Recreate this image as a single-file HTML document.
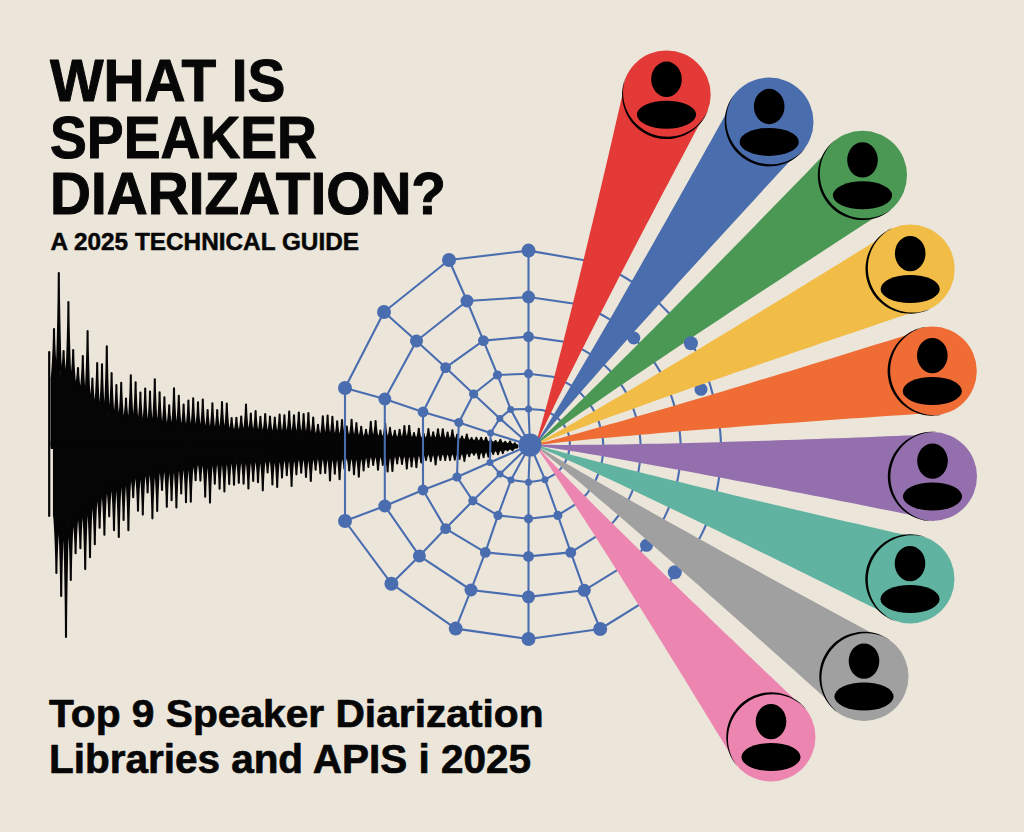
<!DOCTYPE html>
<html><head><meta charset="utf-8"><style>
html,body{margin:0;padding:0;background:#ebe5da;}
body{width:1024px;height:832px;overflow:hidden;}
svg{display:block;}
text{font-family:"Liberation Sans",sans-serif;font-weight:bold;fill:#070707;stroke:#070707;stroke-linejoin:round;}
.t1{stroke-width:1px;} .t2{stroke-width:0.5px;} .t3{stroke-width:0.7px;}
</style></head><body>
<svg width="1024" height="832" viewBox="0 0 1024 832">
<rect width="1024" height="832" fill="#ebe5da"/>
<text class="t1" x="50" y="101" font-size="60" textLength="235.5" lengthAdjust="spacingAndGlyphs">WHAT IS</text>
<text class="t1" x="50" y="157.5" font-size="60" textLength="267" lengthAdjust="spacingAndGlyphs">SPEAKER</text>
<text class="t1" x="50" y="214" font-size="60" textLength="396" lengthAdjust="spacingAndGlyphs">DIARIZATION?</text>
<text class="t2" x="50.5" y="249.5" font-size="24.4" textLength="308.5" lengthAdjust="spacingAndGlyphs">A 2025 TECHNICAL GUIDE</text>
<text class="t3" x="49" y="727" font-size="39.5" textLength="494.5" lengthAdjust="spacingAndGlyphs">Top 9 Speaker Diarization</text>
<text class="t3" x="49" y="773" font-size="41" textLength="482" lengthAdjust="spacingAndGlyphs">Libraries and APIS i 2025</text>
<g fill="#050505" stroke="#050505" stroke-width="2.1" stroke-linejoin="round"><path d="M51.60,445.01 L51.60,377.61 C52.32,377.61 54.00,346.03 54.00,329.02 C54.00,344.80 55.68,374.09 56.40,374.09 C57.12,374.09 58.80,308.41 58.80,273.03 C58.80,308.78 60.48,375.18 61.20,375.18 C61.92,375.18 63.60,359.49 63.60,351.05 C63.60,360.62 65.28,378.39 66.00,378.39 C66.72,378.39 68.40,328.78 68.40,302.07 C68.40,330.02 70.08,381.93 70.80,381.93 C71.52,381.93 73.20,361.23 73.20,350.08 C73.20,363.02 74.88,387.06 75.60,387.06 C76.32,387.06 78.00,374.73 78.00,368.10 C78.00,376.53 79.68,392.20 80.40,392.20 C81.12,392.20 82.80,368.74 82.80,356.11 C82.80,370.54 84.48,397.33 85.20,397.33 C85.92,397.33 87.60,354.30 87.60,331.13 C87.60,356.10 89.28,402.47 90.00,402.47 C90.72,402.47 92.40,386.91 92.40,378.53 C92.40,388.71 94.08,407.60 94.80,407.60 C95.52,407.60 97.20,378.71 97.20,363.16 C97.20,380.51 98.88,412.74 99.60,412.74 C100.32,412.74 102.00,381.20 102.00,364.22 C102.00,381.97 103.68,414.94 104.40,414.94 C105.12,414.94 106.80,370.25 106.80,346.19 C106.80,370.93 108.48,416.88 109.20,416.88 C109.92,416.88 111.60,388.36 111.60,373.00 C111.60,389.04 113.28,418.81 114.00,418.81 C114.72,418.81 116.40,396.94 116.40,385.16 C116.40,397.62 118.08,420.75 118.80,420.75 C119.52,420.75 121.20,396.05 121.20,382.75 C121.20,396.47 122.88,421.96 123.60,421.96 C124.32,421.96 126.00,406.70 126.00,398.48 C126.00,407.04 127.68,422.94 128.40,422.94 C129.12,422.94 130.80,391.95 130.80,375.26 C130.80,392.29 132.48,423.91 133.20,423.91 C133.92,423.91 135.60,396.88 135.60,382.32 C135.60,397.22 137.28,424.89 138.00,424.89 C138.72,424.89 140.40,403.83 140.40,392.49 C140.40,404.17 142.08,425.86 142.80,425.86 C143.52,425.86 145.20,401.54 145.20,388.44 C145.20,401.88 146.88,426.84 147.60,426.84 C148.32,426.84 150.00,403.94 150.00,391.61 C150.00,404.17 151.68,427.49 152.40,427.49 C153.12,427.49 154.80,396.19 154.80,379.34 C154.80,396.31 156.48,427.83 157.20,427.83 C157.92,427.83 159.60,404.72 159.60,392.28 C159.60,404.84 161.28,428.16 162.00,428.16 C162.72,428.16 164.40,408.18 164.40,397.42 C164.40,408.30 166.08,428.50 166.80,428.50 C167.52,428.50 169.20,413.41 169.20,405.28 C169.20,413.52 170.88,428.84 171.60,428.84 C172.32,428.84 174.00,402.55 174.00,388.40 C174.00,402.67 175.68,429.17 176.40,429.17 C177.12,429.17 178.80,407.41 178.80,395.69 C178.80,407.53 180.48,429.51 181.20,429.51 C181.92,429.51 183.60,413.32 183.60,404.61 C183.60,413.44 185.28,429.84 186.00,429.84 C186.72,429.84 188.40,410.78 188.40,400.51 C188.40,410.89 190.08,430.18 190.80,430.18 C191.52,430.18 193.20,409.50 193.20,398.36 C193.20,409.61 194.88,430.51 195.60,430.51 C196.32,430.51 198.00,412.21 198.00,402.35 C198.00,412.32 199.68,430.85 200.40,430.85 C201.12,430.85 202.80,410.45 202.80,399.47 C202.80,410.57 204.48,431.18 205.20,431.18 C205.92,431.18 207.60,417.43 207.60,410.02 C207.60,417.54 209.28,431.52 210.00,431.52 C210.72,431.52 212.40,413.16 212.40,403.27 C212.40,413.23 214.08,431.73 214.80,431.73 C215.52,431.73 217.20,417.71 217.20,410.17 C217.20,417.79 218.88,431.93 219.60,431.93 C220.32,431.93 222.00,412.53 222.00,402.08 C222.00,412.60 223.68,432.14 224.40,432.14 C225.12,432.14 226.80,413.59 226.80,403.61 C226.80,413.67 228.48,432.35 229.20,432.35 C229.92,432.35 231.60,423.09 231.60,418.11 C231.60,423.16 233.28,432.55 234.00,432.55 C234.72,432.55 236.40,422.92 236.40,417.73 C236.40,422.99 238.08,432.76 238.80,432.76 C239.52,432.76 241.20,422.25 241.20,416.59 C241.20,422.32 242.88,432.97 243.60,432.97 C244.32,432.97 246.00,414.46 246.00,404.50 C246.00,414.53 247.68,433.18 248.40,433.18 C249.12,433.18 250.80,420.46 250.80,413.62 C250.80,420.53 252.48,433.38 253.20,433.38 C253.92,433.38 255.60,418.82 255.60,410.98 C255.60,418.89 257.28,433.59 258.00,433.59 C258.72,433.59 260.40,422.69 260.40,416.82 C260.40,422.77 262.08,433.83 262.80,433.83 C263.52,433.83 265.20,420.95 265.20,414.01 C265.20,421.04 266.88,434.08 267.60,434.08 C268.32,434.08 270.00,422.68 270.00,416.53 C270.00,422.77 271.68,434.34 272.40,434.34 C273.12,434.34 274.80,423.50 274.80,417.66 C274.80,423.58 276.48,434.59 277.20,434.59 C277.92,434.59 279.60,421.64 279.60,414.66 C279.60,421.73 281.28,434.85 282.00,434.85 C282.72,434.85 284.40,422.14 284.40,415.30 C284.40,422.23 286.08,435.10 286.80,435.10 C287.52,435.10 289.20,419.73 289.20,411.46 C289.20,419.82 290.88,435.36 291.60,435.36 C292.32,435.36 294.00,422.25 294.00,415.19 C294.00,422.34 295.68,435.61 296.40,435.61 C297.12,435.61 298.80,420.62 298.80,412.55 C298.80,420.71 300.48,435.85 301.20,435.85 C301.92,435.85 303.60,421.71 303.60,414.09 C303.60,421.77 305.28,436.03 306.00,436.03 C306.72,436.03 308.40,421.01 308.40,412.93 C308.40,421.07 310.08,436.20 310.80,436.20 C311.52,436.20 313.20,424.06 313.20,417.53 C313.20,424.13 314.88,436.38 315.60,436.38 C316.32,436.38 318.00,428.87 318.00,424.82 C318.00,428.93 319.68,436.55 320.40,436.55 C321.12,436.55 322.80,423.33 322.80,416.21 C322.80,423.39 324.48,436.73 325.20,436.73 C325.92,436.73 327.60,422.95 327.60,415.53 C327.60,423.01 329.28,436.90 330.00,436.90 C330.72,436.90 332.40,423.83 332.40,416.79 C332.40,423.89 334.08,437.08 334.80,437.08 C335.52,437.08 337.20,426.79 337.20,421.25 C337.20,426.85 338.88,437.25 339.60,437.25 C340.32,437.25 342.00,426.08 342.00,420.06 C342.00,426.14 343.68,437.43 344.40,437.43 C345.12,437.43 346.80,430.33 346.80,426.50 C346.80,430.39 348.48,437.60 349.20,437.60 C349.92,437.60 351.60,426.03 351.60,419.80 C351.60,426.09 353.28,437.78 354.00,437.78 C354.72,437.78 356.40,428.25 356.40,423.13 C356.40,428.32 358.08,437.95 358.80,437.95 C359.52,437.95 361.20,430.71 361.20,426.81 C361.20,430.75 362.88,438.07 363.60,438.07 C364.32,438.07 366.00,432.72 366.00,429.83 C366.00,432.75 367.68,438.16 368.40,438.16 C369.12,438.16 370.80,427.47 370.80,421.72 C370.80,427.51 372.48,438.26 373.20,438.26 C373.92,438.26 375.60,427.02 375.60,420.96 C375.60,427.05 377.28,438.36 378.00,438.36 C378.72,438.36 380.40,433.23 380.40,430.47 C380.40,433.26 382.08,438.45 382.80,438.45 C383.52,438.45 385.20,428.94 385.20,423.81 C385.20,428.97 386.88,438.55 387.60,438.55 C388.32,438.55 390.00,431.62 390.00,427.89 C390.00,431.65 391.68,438.64 392.40,438.64 C393.12,438.64 394.80,433.53 394.80,430.78 C394.80,433.57 396.48,438.74 397.20,438.74 C397.92,438.74 399.60,432.91 399.60,429.77 C399.60,432.94 401.28,438.83 402.00,438.83 C402.72,438.83 404.40,430.60 404.40,426.16 C404.40,430.63 406.08,438.93 406.80,438.93 C407.52,438.93 409.20,430.44 409.20,425.87 C409.20,430.47 410.88,439.02 411.60,439.02 C412.32,439.02 414.00,435.20 414.00,433.14 C414.00,435.23 415.68,439.12 416.40,439.12 C417.12,439.12 418.80,432.44 418.80,428.84 C418.80,432.47 420.48,439.22 421.20,439.22 C421.92,439.22 423.60,435.68 423.60,433.77 C423.60,435.73 425.28,439.36 426.00,439.36 C426.72,439.36 428.40,432.72 428.40,429.14 C428.40,432.77 430.08,439.49 430.80,439.49 C431.52,439.49 433.20,434.82 433.20,432.30 C433.20,434.87 434.88,439.63 435.60,439.63 C436.32,439.63 438.00,432.86 438.00,429.22 C438.00,432.91 439.68,439.77 440.40,439.77 C441.12,439.77 442.80,432.91 442.80,429.22 C442.80,432.96 444.48,439.90 445.20,439.90 C445.92,439.90 447.60,435.12 447.60,432.55 C447.60,435.17 449.28,440.04 450.00,440.04 C450.72,440.04 452.40,433.74 452.40,430.35 C452.40,433.79 454.08,440.17 454.80,440.17 C455.52,440.17 457.20,436.54 457.20,434.59 C457.20,436.59 458.88,440.31 459.60,440.31 C460.32,440.31 462.00,437.80 462.00,436.44 C462.00,437.91 463.68,440.63 464.40,440.63 C465.12,440.63 466.80,436.64 466.80,434.49 C466.80,436.75 468.48,440.96 469.20,440.96 C469.92,440.96 471.60,439.00 471.60,437.95 C471.60,439.12 473.28,441.30 474.00,441.30 C474.72,441.30 476.40,439.02 476.40,437.79 C476.40,439.13 478.08,441.63 478.80,441.63 C479.52,441.63 481.20,439.06 481.20,437.68 C481.20,439.18 482.88,441.97 483.60,441.97 C484.32,441.97 486.00,439.25 486.00,437.79 C486.00,439.37 487.68,442.30 488.40,442.30 C489.12,442.30 490.80,440.79 490.80,439.97 C490.80,440.94 492.48,442.74 493.20,442.74 C493.92,442.74 495.60,441.65 495.60,441.06 C495.60,441.82 497.28,443.24 498.00,443.24 C498.72,443.24 500.40,441.01 500.40,439.81 C500.40,441.18 502.08,443.73 502.80,443.73 C503.52,443.73 505.20,442.51 505.20,441.85 C505.20,442.69 506.88,444.23 507.60,444.23 C508.32,444.23 510.00,442.48 510.00,441.54 C510.00,442.69 511.68,444.83 512.40,444.83 C513.12,444.83 514.80,443.85 514.80,443.32 C514.80,444.08 516.48,445.50 517.20,445.50 L517.20,446.50 Z"/><path d=" M54.00,445.02 L54.00,515.69 C54.72,515.69 56.40,552.96 56.40,573.03 C56.40,554.78 58.08,520.90 58.80,520.90 C59.52,520.90 61.20,569.74 61.20,596.04 C61.20,569.47 62.88,520.12 63.60,520.12 C64.32,520.12 66.00,596.13 66.00,637.06 C66.00,595.85 67.68,519.33 68.40,519.33 C69.12,519.33 70.80,558.81 70.80,580.07 C70.80,557.68 72.48,516.09 73.20,516.09 C73.92,516.09 75.60,540.25 75.60,553.26 C75.60,538.69 77.28,511.63 78.00,511.63 C78.72,511.63 80.40,535.42 80.40,548.23 C80.40,533.85 82.08,507.16 82.80,507.16 C83.52,507.16 85.20,547.43 85.20,569.12 C85.20,545.75 86.88,502.35 87.60,502.35 C88.32,502.35 90.00,537.96 90.00,557.13 C90.00,536.17 91.68,497.25 92.40,497.25 C93.12,497.25 94.80,527.73 94.80,544.15 C94.80,525.95 96.48,492.14 97.20,492.14 C97.92,492.14 99.60,515.24 99.60,527.68 C99.60,513.78 101.28,487.97 102.00,487.97 C102.72,487.97 104.40,518.34 104.40,534.70 C104.40,517.34 106.08,485.11 106.80,485.11 C107.52,485.11 109.20,505.40 109.20,516.33 C109.20,504.40 110.88,482.24 111.60,482.24 C112.32,482.24 114.00,513.42 114.00,530.21 C114.00,512.42 115.68,479.38 116.40,479.38 C117.12,479.38 118.80,516.83 118.80,536.99 C118.80,515.93 120.48,476.83 121.20,476.83 C121.92,476.83 123.60,504.82 123.60,519.89 C123.60,504.27 125.28,475.25 126.00,475.25 C126.72,475.25 128.40,511.00 128.40,530.26 C128.40,510.45 130.08,473.66 130.80,473.66 C131.52,473.66 133.20,488.93 133.20,497.16 C133.20,488.38 134.88,472.08 135.60,472.08 C136.32,472.08 138.00,497.25 138.00,510.80 C138.00,496.69 139.68,470.50 140.40,470.50 C141.12,470.50 142.80,499.15 142.80,514.58 C142.80,498.60 144.48,468.91 145.20,468.91 C145.92,468.91 147.60,484.19 147.60,492.42 C147.60,483.64 149.28,467.33 150.00,467.33 C150.72,467.33 152.40,500.48 152.40,518.33 C152.40,500.23 154.08,466.62 154.80,466.62 C155.52,466.62 157.20,495.42 157.20,510.93 C157.20,495.17 158.88,465.92 159.60,465.92 C160.32,465.92 162.00,481.53 162.00,489.94 C162.00,481.29 163.68,465.21 164.40,465.21 C165.12,465.21 166.80,492.27 166.80,506.85 C166.80,492.03 168.48,464.51 169.20,464.51 C169.92,464.51 171.60,487.67 171.60,500.14 C171.60,487.43 173.28,463.80 174.00,463.80 C174.72,463.80 176.40,492.15 176.40,507.41 C176.40,491.90 178.08,463.10 178.80,463.10 C179.52,463.10 181.20,482.82 181.20,493.44 C181.20,482.58 182.88,462.39 183.60,462.39 C184.32,462.39 186.00,488.24 186.00,502.15 C186.00,487.99 187.68,461.69 188.40,461.69 C189.12,461.69 190.80,487.76 190.80,501.80 C190.80,487.51 192.48,460.98 193.20,460.98 C193.92,460.98 195.60,473.48 195.60,480.21 C195.60,473.24 197.28,460.28 198.00,460.28 C198.72,460.28 200.40,473.48 200.40,480.59 C200.40,473.24 202.08,459.58 202.80,459.58 C203.52,459.58 205.20,483.68 205.20,496.66 C205.20,483.44 206.88,458.87 207.60,458.87 C208.32,458.87 210.00,487.31 210.00,502.62 C210.00,487.16 211.68,458.43 212.40,458.43 C213.12,458.43 214.80,474.92 214.80,483.80 C214.80,474.86 216.48,458.25 217.20,458.25 C217.92,458.25 219.60,478.04 219.60,488.69 C219.60,477.97 221.28,458.08 222.00,458.08 C222.72,458.08 224.40,479.81 224.40,491.51 C224.40,479.75 226.08,457.90 226.80,457.90 C227.52,457.90 229.20,474.92 229.20,484.08 C229.20,474.85 230.88,457.72 231.60,457.72 C232.32,457.72 234.00,475.23 234.00,484.66 C234.00,475.17 235.68,457.55 236.40,457.55 C237.12,457.55 238.80,473.98 238.80,482.83 C238.80,473.92 240.48,457.37 241.20,457.37 C241.92,457.37 243.60,474.48 243.60,483.69 C243.60,474.42 245.28,457.19 246.00,457.19 C246.72,457.19 248.40,477.52 248.40,488.46 C248.40,477.46 250.08,457.02 250.80,457.02 C251.52,457.02 253.20,472.57 253.20,480.95 C253.20,472.51 254.88,456.84 255.60,456.84 C256.32,456.84 258.00,473.35 258.00,482.24 C258.00,473.29 259.68,456.67 260.40,456.67 C261.12,456.67 262.80,478.55 262.80,490.33 C262.80,478.51 264.48,456.56 265.20,456.56 C265.92,456.56 267.60,466.89 267.60,472.45 C267.60,466.86 269.28,456.46 270.00,456.46 C270.72,456.46 272.40,474.65 272.40,484.45 C272.40,474.62 274.08,456.36 274.80,456.36 C275.52,456.36 277.20,476.32 277.20,487.07 C277.20,476.28 278.88,456.25 279.60,456.25 C280.32,456.25 282.00,470.13 282.00,477.61 C282.00,470.10 283.68,456.15 284.40,456.15 C285.12,456.15 286.80,468.49 286.80,475.14 C286.80,468.46 288.48,456.04 289.20,456.04 C289.92,456.04 291.60,475.43 291.60,485.88 C291.60,475.40 293.28,455.94 294.00,455.94 C294.72,455.94 296.40,467.89 296.40,474.33 C296.40,467.86 298.08,455.83 298.80,455.83 C299.52,455.83 301.20,466.83 301.20,472.75 C301.20,466.80 302.88,455.76 303.60,455.76 C304.32,455.76 306.00,469.56 306.00,476.99 C306.00,469.54 307.68,455.69 308.40,455.69 C309.12,455.69 310.80,472.14 310.80,481.00 C310.80,472.12 312.48,455.63 313.20,455.63 C313.92,455.63 315.60,464.80 315.60,469.74 C315.60,464.78 317.28,455.56 318.00,455.56 C318.72,455.56 320.40,467.14 320.40,473.37 C320.40,467.11 322.08,455.50 322.80,455.50 C323.52,455.50 325.20,466.91 325.20,473.06 C325.20,466.89 326.88,455.43 327.60,455.43 C328.32,455.43 330.00,471.67 330.00,480.41 C330.00,471.64 331.68,455.37 332.40,455.37 C333.12,455.37 334.80,467.28 334.80,473.70 C334.80,467.26 336.48,455.30 337.20,455.30 C337.92,455.30 339.60,470.89 339.60,479.28 C339.60,470.87 341.28,455.24 342.00,455.24 C342.72,455.24 344.40,463.81 344.40,468.42 C344.40,463.78 346.08,455.18 346.80,455.18 C347.52,455.18 349.20,465.16 349.20,470.54 C349.20,465.14 350.88,455.11 351.60,455.11 C352.32,455.11 354.00,467.63 354.00,474.37 C354.00,467.61 355.68,455.05 356.40,455.05 C357.12,455.05 358.80,469.15 358.80,476.74 C358.80,469.12 360.48,454.96 361.20,454.96 C361.92,454.96 363.60,465.06 363.60,470.50 C363.60,465.01 365.28,454.82 366.00,454.82 C366.72,454.82 368.40,462.69 368.40,466.93 C368.40,462.64 370.08,454.67 370.80,454.67 C371.52,454.67 373.20,461.39 373.20,465.00 C373.20,461.33 374.88,454.53 375.60,454.53 C376.32,454.53 378.00,464.37 378.00,469.67 C378.00,464.32 379.68,454.38 380.40,454.38 C381.12,454.38 382.80,461.28 382.80,464.99 C382.80,461.23 384.48,454.24 385.20,454.24 C385.92,454.24 387.60,465.43 387.60,471.45 C387.60,465.37 389.28,454.09 390.00,454.09 C390.72,454.09 392.40,465.12 392.40,471.06 C392.40,465.07 394.08,453.95 394.80,453.95 C395.52,453.95 397.20,460.12 397.20,463.45 C397.20,460.07 398.88,453.80 399.60,453.80 C400.32,453.80 402.00,460.43 402.00,464.00 C402.00,460.38 403.68,453.66 404.40,453.66 C405.12,453.66 406.80,463.36 406.80,468.58 C406.80,463.31 408.48,453.52 409.20,453.52 C409.92,453.52 411.60,461.88 411.60,466.38 C411.60,461.83 413.28,453.37 414.00,453.37 C414.72,453.37 416.40,462.32 416.40,467.14 C416.40,462.27 418.08,453.23 418.80,453.23 C419.52,453.23 421.20,459.27 421.20,462.53 C421.20,459.23 422.88,453.11 423.60,453.11 C424.32,453.11 426.00,457.67 426.00,460.12 C426.00,457.63 427.68,453.01 428.40,453.01 C429.12,453.01 430.80,458.28 430.80,461.12 C430.80,458.24 432.48,452.90 433.20,452.90 C433.92,452.90 435.60,460.40 435.60,464.43 C435.60,460.36 437.28,452.80 438.00,452.80 C438.72,452.80 440.40,457.50 440.40,460.03 C440.40,457.46 442.08,452.69 442.80,452.69 C443.52,452.69 445.20,457.52 445.20,460.12 C445.20,457.48 446.88,452.59 447.60,452.59 C448.32,452.59 450.00,457.48 450.00,460.11 C450.00,457.44 451.68,452.48 452.40,452.48 C453.12,452.48 454.80,457.12 454.80,459.62 C454.80,457.08 456.48,452.38 457.20,452.38 C457.92,452.38 459.60,456.71 459.60,459.05 C459.60,456.65 461.28,452.19 462.00,452.19 C462.72,452.19 464.40,457.95 464.40,461.05 C464.40,457.84 466.08,451.89 466.80,451.89 C467.52,451.89 469.20,454.71 469.20,456.23 C469.20,454.60 470.88,451.58 471.60,451.58 C472.32,451.58 474.00,453.62 474.00,454.72 C474.00,453.52 475.68,451.28 476.40,451.28 C477.12,451.28 478.80,455.90 478.80,458.39 C478.80,455.79 480.48,450.97 481.20,450.97 C481.92,450.97 483.60,455.04 483.60,457.23 C483.60,454.93 485.28,450.67 486.00,450.67 C486.72,450.67 488.40,454.58 488.40,456.68 C488.40,454.46 490.08,450.34 490.80,450.34 C491.52,450.34 493.20,452.64 493.20,453.88 C493.20,452.47 494.88,449.87 495.60,449.87 C496.32,449.87 498.00,452.76 498.00,454.31 C498.00,452.59 499.68,449.41 500.40,449.41 C501.12,449.41 502.80,451.80 502.80,453.09 C502.80,451.64 504.48,448.94 505.20,448.94 C505.92,448.94 507.60,450.00 507.60,450.57 C507.60,449.84 509.28,448.48 510.00,448.48 C510.72,448.48 512.40,449.65 512.40,450.28 C512.40,449.42 514.08,447.81 514.80,447.81 L514.80,446.49 Z"/><path d=" M51.60,448.01 L517.20,447.50 L517.20,445.50 L51.60,442.01 Z"/><path d="M49.2,352 L49.2,516" fill="none" stroke-width="2.2" stroke-linecap="round"/></g>
<g fill="none" stroke="#4a6db0" stroke-width="2.1" stroke-linejoin="round"><path d="M530.0,445.0 L528.5,409.0 L528.5,373.7 L528.5,336.6 L528.5,297.0 L528.5,250.6"/><path d="M530.0,445.0 L510.7,409.4 L497.5,375.0 L483.4,340.6 L467.0,301.0 L449.0,260.0"/><path d="M530.0,445.0 L499.8,418.4 L473.6,394.0 L445.6,367.6 L416.5,341.0 L384.0,312.0"/><path d="M530.0,445.0 L490.6,433.0 L458.8,422.6 L423.0,412.0 L384.8,399.0 L345.0,388.0"/><path d="M530.0,445.0 L490.0,462.5 L457.0,477.0 L423.0,490.0 L384.8,506.0 L345.0,521.0"/><path d="M530.0,445.0 L500.0,473.9 L472.9,500.8 L445.6,528.6 L419.4,555.9 L391.4,583.7"/><path d="M530.0,445.0 L511.0,480.0 L498.0,515.4 L485.3,552.4 L471.0,590.0 L455.7,628.6"/><path d="M530.0,445.0 L528.5,482.3 L528.5,518.8 L528.5,556.4 L528.5,596.9 L528.5,639.0"/><path d="M530.0,445.0 L545.0,479.7 L557.8,515.4 L570.8,552.4 L584.3,590.3 L600.2,629.0"/><path d="M528.5,409.0 L510.7,409.4 L499.8,418.4 L490.6,433.0 L490.0,462.5 L500.0,473.9 L511.0,480.0 L528.5,482.3 L545.0,479.7 L555.0,474.1 L556.1,473.3 L557.1,472.4 L558.0,471.5 L559.0,470.6 L559.9,469.6 L560.8,468.6 L561.6,467.5 L562.4,466.5 L563.2,465.4 L563.9,464.2 L564.6,463.1 L565.3,461.9 L565.9,460.7 L566.4,459.5 L567.0,458.2 L567.4,457.0 L567.9,455.7 L568.3,454.4 L568.6,453.1 L568.9,451.8 L569.2,450.4 L569.4,449.1 L569.6,447.7 L569.7,446.4 L569.8,445.0 L569.8,443.6 L569.8,442.3 L569.7,440.9 L569.6,439.5 L569.4,438.2 L569.2,436.8 L568.9,435.4 L568.5,434.1 L568.0,432.8 L567.5,431.6 L566.9,430.3 L566.3,429.1 L565.6,427.9 L564.9,426.7 L564.2,425.6 L563.4,424.5 L562.6,423.4 L561.8,422.4 L560.9,421.3 L560.0,420.4 L559.0,419.4 L558.0,418.5 L557.0,417.6 L556.0,416.8 L554.9,416.0 L553.9,415.2 L552.7,414.5 L551.6,413.8 L550.5,413.2 L549.3,412.6 L548.1,412.1 L546.9,411.6 L545.7,411.1 L544.5,410.7 L543.2,410.3 L542.0,410.0 L528.5,409.0 Z"/><path d="M528.5,373.7 L497.5,375.0 L473.6,394.0 L458.8,422.6 L457.0,477.0 L472.9,500.8 L498.0,515.4 L528.5,518.8 L557.8,515.4 L578.6,502.3 L580.6,500.5 L582.4,498.6 L584.2,496.7 L585.9,494.8 L587.5,492.8 L589.1,490.7 L590.6,488.6 L592.0,486.4 L593.3,484.2 L594.6,481.9 L595.8,479.7 L596.9,477.3 L597.9,475.0 L598.8,472.6 L599.6,470.1 L600.4,467.7 L601.1,465.2 L601.6,462.7 L602.1,460.2 L602.5,457.7 L602.9,455.2 L603.1,452.6 L603.2,450.1 L603.3,447.5 L603.2,445.0 L603.1,442.5 L602.9,439.9 L602.6,437.4 L602.2,434.9 L601.7,432.5 L601.2,430.0 L600.5,427.6 L599.8,425.2 L599.1,422.8 L598.2,420.4 L597.3,418.0 L596.3,415.7 L595.3,413.5 L594.1,411.2 L592.9,409.0 L591.6,406.9 L590.2,404.8 L588.8,402.7 L587.3,400.7 L585.7,398.8 L584.0,396.9 L582.3,395.1 L580.5,393.3 L578.7,391.6 L576.8,390.0 L574.8,388.4 L572.8,386.9 L570.8,385.4 L568.7,384.1 L566.5,382.8 L564.3,381.6 L562.1,380.5 L559.8,379.4 L557.5,378.4 L555.2,377.5 L552.8,376.7 L528.5,373.7 Z"/><path d="M528.5,336.6 L483.4,340.6 L445.6,367.6 L423.0,412.0 L423.0,490.0 L445.6,528.6 L485.3,552.4 L528.5,556.4 L570.8,552.4 L603.5,531.9 L606.4,529.2 L609.2,526.4 L611.9,523.5 L614.5,520.6 L617.0,517.5 L619.4,514.3 L621.6,511.1 L623.8,507.8 L625.8,504.5 L627.7,501.0 L629.4,497.6 L631.1,494.0 L632.6,490.4 L634.0,486.8 L635.3,483.1 L636.4,479.4 L637.4,475.6 L638.3,471.9 L639.0,468.0 L639.6,464.2 L640.1,460.4 L640.4,456.5 L640.6,452.7 L640.7,448.8 L640.6,445.0 L640.4,441.2 L640.1,437.3 L639.6,433.5 L639.0,429.8 L638.3,426.0 L637.4,422.3 L636.4,418.6 L635.4,415.0 L634.2,411.3 L633.0,407.7 L631.6,404.2 L630.1,400.7 L628.5,397.3 L626.7,393.9 L624.9,390.6 L622.9,387.3 L620.8,384.1 L618.6,381.0 L616.3,378.0 L613.9,375.1 L611.4,372.2 L608.8,369.4 L606.1,366.8 L603.4,364.2 L600.5,361.7 L597.5,359.3 L594.5,357.1 L591.4,354.9 L588.2,352.9 L584.9,350.9 L581.6,349.1 L578.2,347.4 L574.8,345.8 L571.3,344.3 L567.7,343.0 L564.1,341.8 L528.5,336.6 Z"/><path d="M528.5,297.0 L467.0,301.0 L416.5,341.0 L384.8,399.0 L384.8,506.0 L419.4,555.9 L471.0,590.0 L528.5,596.9 L584.3,590.3 L629.3,562.7 L633.3,559.1 L637.1,555.3 L640.8,551.4 L644.3,547.4 L647.7,543.3 L651.0,539.1 L654.1,534.7 L657.0,530.3 L659.8,525.7 L662.4,521.1 L664.9,516.4 L667.1,511.6 L669.3,506.7 L671.2,501.8 L673.0,496.8 L674.5,491.8 L675.9,486.7 L677.2,481.5 L678.2,476.4 L679.1,471.2 L679.8,466.0 L680.3,460.7 L680.6,455.5 L680.7,450.2 L680.7,445.0 L680.4,439.8 L680.0,434.6 L679.4,429.4 L678.6,424.2 L677.7,419.1 L676.6,414.0 L675.2,408.9 L673.8,403.9 L672.3,399.0 L670.6,394.1 L668.7,389.2 L666.6,384.4 L664.4,379.7 L662.0,375.1 L659.5,370.6 L656.8,366.2 L653.9,361.8 L650.9,357.6 L647.8,353.5 L644.5,349.4 L641.1,345.5 L637.5,341.8 L633.8,338.1 L630.0,334.6 L626.1,331.2 L622.0,328.0 L617.9,324.9 L613.6,321.9 L609.3,319.1 L604.8,316.5 L600.3,314.0 L595.6,311.7 L590.9,309.5 L586.2,307.5 L581.3,305.7 L576.4,304.0 L528.5,297.0 Z"/><path d="M528.5,250.6 L449.0,260.0 L384.0,312.0 L345.0,388.0 L345.0,521.0 L391.4,583.7 L455.7,628.6 L528.5,639.0 L600.2,629.0 L656.0,594.4 L661.0,589.8 L665.8,585.0 L670.5,580.1 L675.0,575.0 L679.3,569.8 L683.4,564.4 L687.3,558.9 L691.1,553.2 L694.6,547.5 L697.9,541.6 L701.0,535.6 L703.9,529.5 L706.6,523.3 L709.0,517.1 L711.3,510.8 L713.3,504.4 L715.0,497.9 L716.6,491.4 L717.9,484.8 L719.0,478.2 L719.9,471.6 L720.5,465.0 L720.9,458.3 L721.1,451.7 L721.0,445.0 L720.7,438.4 L720.2,431.7 L719.4,425.2 L718.4,418.6 L717.2,412.1 L715.7,405.6 L714.1,399.3 L712.3,392.9 L710.6,386.5 L708.5,380.2 L706.3,374.0 L703.9,367.9 L701.2,361.8 L698.3,355.8 L695.2,350.0 L691.9,344.2 L688.4,338.5 L684.7,333.0 L680.8,327.6 L676.8,322.4 L672.5,317.2 L668.1,312.3 L663.4,307.4 L658.7,302.8 L653.7,298.3 L648.6,294.0 L643.3,289.8 L637.9,285.9 L632.4,282.1 L626.7,278.5 L620.9,275.1 L615.0,272.0 L609.0,269.0 L602.8,266.2 L596.6,263.7 L590.3,261.3 L528.5,250.6 Z"/></g>
<g fill="#4a6db0"><circle cx="528.5" cy="409.0" r="3.5"/><circle cx="528.5" cy="373.7" r="4.6"/><circle cx="528.5" cy="336.6" r="5.4"/><circle cx="528.5" cy="297.0" r="6.5"/><circle cx="528.5" cy="250.6" r="7.0"/><circle cx="510.7" cy="409.4" r="3.5"/><circle cx="497.5" cy="375.0" r="4.6"/><circle cx="483.4" cy="340.6" r="5.4"/><circle cx="467.0" cy="301.0" r="6.5"/><circle cx="449.0" cy="260.0" r="7.0"/><circle cx="499.8" cy="418.4" r="3.5"/><circle cx="473.6" cy="394.0" r="4.6"/><circle cx="445.6" cy="367.6" r="5.4"/><circle cx="416.5" cy="341.0" r="6.5"/><circle cx="384.0" cy="312.0" r="7.0"/><circle cx="490.6" cy="433.0" r="3.5"/><circle cx="458.8" cy="422.6" r="4.6"/><circle cx="423.0" cy="412.0" r="5.4"/><circle cx="384.8" cy="399.0" r="6.5"/><circle cx="345.0" cy="388.0" r="7.0"/><circle cx="490.0" cy="462.5" r="3.5"/><circle cx="457.0" cy="477.0" r="4.6"/><circle cx="423.0" cy="490.0" r="5.4"/><circle cx="384.8" cy="506.0" r="6.5"/><circle cx="345.0" cy="521.0" r="7.0"/><circle cx="500.0" cy="473.9" r="3.5"/><circle cx="472.9" cy="500.8" r="4.6"/><circle cx="445.6" cy="528.6" r="5.4"/><circle cx="419.4" cy="555.9" r="6.5"/><circle cx="391.4" cy="583.7" r="7.0"/><circle cx="511.0" cy="480.0" r="3.5"/><circle cx="498.0" cy="515.4" r="4.6"/><circle cx="485.3" cy="552.4" r="5.4"/><circle cx="471.0" cy="590.0" r="6.5"/><circle cx="455.7" cy="628.6" r="7.0"/><circle cx="528.5" cy="482.3" r="3.5"/><circle cx="528.5" cy="518.8" r="4.6"/><circle cx="528.5" cy="556.4" r="5.4"/><circle cx="528.5" cy="596.9" r="6.5"/><circle cx="528.5" cy="639.0" r="7.0"/><circle cx="545.0" cy="479.7" r="3.5"/><circle cx="557.8" cy="515.4" r="4.6"/><circle cx="570.8" cy="552.4" r="5.4"/><circle cx="584.3" cy="590.3" r="6.5"/><circle cx="600.2" cy="629.0" r="7.0"/><circle cx="701.0" cy="389.3" r="6.5"/><circle cx="633.8" cy="338.0" r="6.5"/><circle cx="646.5" cy="545.3" r="6.5"/><circle cx="674.8" cy="572.3" r="7.0"/></g>
<g><path fill="#e43a37" d="M538.86,438.68 L542.65,430.30 L546.55,421.97 L550.52,413.66 L554.52,405.37 L558.56,397.08 L562.62,388.81 L566.70,380.54 L570.80,372.28 L574.92,364.03 L579.05,355.78 L583.19,347.54 L587.35,339.30 L591.53,331.06 L595.71,322.84 L599.90,314.61 L604.10,306.39 L608.32,298.17 L612.54,289.96 L616.77,281.74 L621.00,273.54 L625.25,265.33 L629.50,257.13 L633.76,248.93 L638.03,240.73 L642.30,232.53 L646.58,224.34 L650.87,216.15 L655.16,207.96 L659.46,199.78 L663.76,191.59 L668.07,183.41 L672.39,175.23 L676.71,167.05 L681.03,158.88 L685.36,150.70 L689.69,142.53 L694.03,134.36 L698.38,126.19 L702.73,118.02 L707.08,109.86 L625.92,79.54 L623.86,88.56 L621.78,97.58 L619.71,106.60 L617.63,115.61 L615.54,124.62 L613.45,133.63 L611.36,142.64 L609.26,151.65 L607.16,160.66 L605.04,169.66 L602.93,178.66 L600.81,187.66 L598.68,196.66 L596.55,205.65 L594.41,214.64 L592.26,223.63 L590.11,232.62 L587.95,241.61 L585.78,250.59 L583.61,259.57 L581.43,268.54 L579.24,277.52 L577.04,286.49 L574.83,295.46 L572.62,304.42 L570.39,313.38 L568.15,322.33 L565.91,331.29 L563.65,340.23 L561.37,349.18 L559.09,358.11 L556.79,367.05 L554.47,375.97 L552.13,384.89 L549.77,393.80 L547.38,402.70 L544.97,411.59 L542.51,420.46 L540.00,429.32 L537.37,438.12 Z"/><circle fill="#e43a37" cx="666.50" cy="94.70" r="44.20"/><path fill="#4a6dae" d="M539.72,440.15 L545.95,432.55 L552.29,425.03 L558.68,417.55 L565.10,410.09 L571.54,402.64 L578.01,395.22 L584.49,387.80 L591.00,380.40 L597.51,373.01 L604.04,365.62 L610.58,358.25 L617.13,350.88 L623.69,343.52 L630.26,336.17 L636.84,328.82 L643.43,321.48 L650.02,314.15 L656.62,306.82 L663.23,299.49 L669.85,292.17 L676.47,284.86 L683.10,277.55 L689.74,270.24 L696.38,262.94 L703.02,255.64 L709.68,248.35 L716.33,241.06 L723.00,233.77 L729.66,226.49 L736.33,219.21 L743.01,211.93 L749.69,204.66 L756.38,197.39 L763.07,190.12 L769.76,182.86 L776.46,175.60 L783.16,168.34 L789.86,161.09 L796.57,153.83 L803.29,146.58 L735.11,97.22 L730.32,105.86 L725.52,114.49 L720.72,123.13 L715.92,131.76 L711.11,140.39 L706.29,149.01 L701.48,157.63 L696.66,166.25 L691.83,174.87 L687.00,183.48 L682.17,192.09 L677.33,200.70 L672.48,209.30 L667.63,217.90 L662.78,226.49 L657.92,235.09 L653.05,243.67 L648.18,252.26 L643.30,260.84 L638.42,269.41 L633.53,277.98 L628.63,286.54 L623.73,295.10 L618.82,303.66 L613.90,312.21 L608.97,320.75 L604.03,329.28 L599.09,337.81 L594.13,346.34 L589.16,354.85 L584.18,363.36 L579.19,371.85 L574.19,380.34 L569.17,388.81 L564.13,397.27 L559.07,405.72 L553.98,414.15 L548.86,422.55 L543.69,430.92 L538.42,439.21 Z"/><circle fill="#4a6dae" cx="769.20" cy="121.90" r="44.30"/><path fill="#4a9854" d="M540.28,441.64 L548.73,435.45 L557.26,429.37 L565.83,423.34 L574.42,417.33 L583.04,411.35 L591.67,405.39 L600.31,399.45 L608.97,393.52 L617.64,387.61 L626.32,381.71 L635.01,375.82 L643.70,369.94 L652.41,364.07 L661.12,358.21 L669.84,352.36 L678.56,346.51 L687.30,340.67 L696.03,334.85 L704.78,329.02 L713.52,323.21 L722.28,317.40 L731.04,311.59 L739.80,305.79 L748.57,300.00 L757.34,294.21 L766.12,288.43 L774.90,282.65 L783.68,276.88 L792.47,271.11 L801.26,265.35 L810.06,259.59 L818.86,253.83 L827.66,248.08 L836.47,242.34 L845.28,236.59 L854.09,230.85 L862.91,225.12 L871.72,219.39 L880.55,213.66 L889.37,207.94 L835.63,142.66 L828.32,150.23 L821.00,157.78 L813.69,165.34 L806.36,172.89 L799.04,180.44 L791.71,187.98 L784.38,195.52 L777.05,203.05 L769.71,210.59 L762.37,218.11 L755.03,225.63 L747.68,233.15 L740.33,240.67 L732.97,248.17 L725.61,255.68 L718.25,263.18 L710.88,270.67 L703.51,278.16 L696.13,285.64 L688.75,293.11 L681.36,300.58 L673.97,308.05 L666.57,315.50 L659.16,322.95 L651.75,330.39 L644.34,337.83 L636.91,345.25 L629.48,352.67 L622.04,360.07 L614.59,367.47 L607.14,374.85 L599.67,382.23 L592.19,389.59 L584.70,396.93 L577.19,404.26 L569.67,411.56 L562.13,418.84 L554.56,426.09 L546.95,433.30 L539.27,440.40 Z"/><circle fill="#4a9854" cx="862.50" cy="175.30" r="44.50"/><path fill="#f2bd46" d="M540.60,443.15 L550.10,439.35 L559.66,435.68 L569.24,432.05 L578.84,428.46 L588.46,424.91 L598.08,421.37 L607.71,417.86 L617.36,414.36 L627.01,410.88 L636.66,407.42 L646.32,403.97 L655.99,400.53 L665.67,397.10 L675.34,393.68 L685.03,390.27 L694.71,386.87 L704.41,383.48 L714.10,380.10 L723.80,376.73 L733.50,373.36 L743.21,370.00 L752.92,366.65 L762.63,363.30 L772.35,359.96 L782.07,356.63 L791.79,353.31 L801.51,349.98 L811.24,346.67 L820.97,343.36 L830.70,340.06 L840.44,336.76 L850.17,333.46 L859.91,330.17 L869.65,326.89 L879.40,323.61 L889.14,320.33 L898.89,317.06 L908.64,313.80 L918.39,310.54 L928.14,307.28 L892.26,230.72 L883.51,236.14 L874.77,241.54 L866.02,246.95 L857.27,252.35 L848.52,257.75 L839.77,263.14 L831.01,268.52 L822.25,273.91 L813.49,279.28 L804.73,284.66 L795.97,290.02 L787.20,295.39 L778.43,300.74 L769.66,306.09 L760.88,311.44 L752.10,316.78 L743.32,322.11 L734.54,327.43 L725.75,332.75 L716.96,338.07 L708.16,343.37 L699.37,348.67 L690.57,353.96 L681.76,359.24 L672.95,364.51 L664.14,369.77 L655.32,375.03 L646.50,380.27 L637.67,385.50 L628.83,390.72 L619.99,395.92 L611.14,401.12 L602.29,406.29 L593.43,411.45 L584.55,416.59 L575.67,421.70 L566.77,426.78 L557.86,431.83 L548.92,436.82 L539.92,441.70 Z"/><circle fill="#f2bd46" cx="910.20" cy="269.00" r="44.50"/><path fill="#ef6c34" d="M540.69,444.70 L550.59,443.46 L560.52,442.35 L570.45,441.30 L580.40,440.29 L590.35,439.31 L600.31,438.36 L610.27,437.43 L620.23,436.52 L630.20,435.63 L640.17,434.75 L650.14,433.88 L660.11,433.03 L670.09,432.20 L680.07,431.37 L690.05,430.55 L700.04,429.75 L710.02,428.95 L720.01,428.16 L730.00,427.39 L739.99,426.62 L749.98,425.85 L759.97,425.10 L769.96,424.35 L779.96,423.61 L789.96,422.88 L799.95,422.15 L809.95,421.43 L819.95,420.71 L829.96,420.01 L839.96,419.30 L849.96,418.61 L859.97,417.91 L869.97,417.23 L879.98,416.55 L889.98,415.87 L899.99,415.20 L910.00,414.53 L920.01,413.87 L930.02,413.21 L940.03,412.56 L924.57,329.44 L914.99,332.43 L905.41,335.42 L895.83,338.40 L886.26,341.38 L876.68,344.36 L867.09,347.33 L857.51,350.29 L847.93,353.25 L838.35,356.20 L828.76,359.15 L819.18,362.09 L809.59,365.03 L800.00,367.96 L790.41,370.89 L780.82,373.80 L771.23,376.72 L761.64,379.62 L752.05,382.52 L742.45,385.41 L732.85,388.29 L723.26,391.17 L713.66,394.04 L704.06,396.89 L694.45,399.74 L684.85,402.58 L675.24,405.41 L665.63,408.23 L656.02,411.04 L646.41,413.83 L636.79,416.62 L627.17,419.38 L617.55,422.13 L607.93,424.87 L598.30,427.58 L588.67,430.28 L579.03,432.95 L569.39,435.58 L559.74,438.18 L550.08,440.71 L540.39,443.12 Z"/><circle fill="#ef6c34" cx="932.30" cy="371.00" r="44.50"/><path fill="#9370ad" d="M540.53,446.27 L550.28,447.64 L560.02,449.14 L569.75,450.70 L579.49,452.30 L589.22,453.93 L598.94,455.59 L608.67,457.27 L618.39,458.97 L628.12,460.69 L637.84,462.42 L647.56,464.17 L657.28,465.93 L667.00,467.70 L676.72,469.49 L686.43,471.29 L696.15,473.09 L705.86,474.91 L715.58,476.74 L725.29,478.57 L735.01,480.41 L744.72,482.26 L754.43,484.12 L764.14,485.99 L773.85,487.86 L783.56,489.74 L793.27,491.63 L802.98,493.52 L812.69,495.42 L822.40,497.33 L832.11,499.24 L841.81,501.16 L851.52,503.08 L861.23,505.01 L870.93,506.94 L880.64,508.88 L890.35,510.82 L900.05,512.77 L909.76,514.72 L919.46,516.68 L929.16,518.64 L935.84,434.36 L925.95,434.77 L916.05,435.17 L906.16,435.58 L896.27,435.97 L886.38,436.36 L876.49,436.75 L866.60,437.13 L856.71,437.51 L846.83,437.88 L836.94,438.25 L827.05,438.61 L817.16,438.96 L807.28,439.31 L797.39,439.65 L787.50,439.98 L777.62,440.31 L767.73,440.63 L757.85,440.95 L747.97,441.26 L738.08,441.56 L728.20,441.85 L718.32,442.13 L708.44,442.40 L698.56,442.67 L688.68,442.92 L678.80,443.17 L668.92,443.40 L659.05,443.63 L649.17,443.84 L639.29,444.03 L629.42,444.22 L619.55,444.38 L609.68,444.53 L599.81,444.66 L589.94,444.77 L580.07,444.85 L570.21,444.90 L560.35,444.90 L550.50,444.85 L540.65,444.67 Z"/><circle fill="#9370ad" cx="932.50" cy="476.50" r="44.50"/><path fill="#5fb3a0" d="M540.12,447.78 L549.16,451.64 L558.16,455.62 L567.14,459.66 L576.10,463.74 L585.05,467.85 L593.99,471.98 L602.93,476.14 L611.85,480.31 L620.78,484.50 L629.69,488.70 L638.61,492.92 L647.51,497.15 L656.42,501.39 L665.32,505.65 L674.21,509.91 L683.10,514.18 L691.99,518.47 L700.88,522.76 L709.76,527.06 L718.64,531.37 L727.52,535.68 L736.39,540.00 L745.27,544.33 L754.14,548.67 L763.00,553.01 L771.87,557.36 L780.73,561.72 L789.59,566.08 L798.45,570.44 L807.31,574.82 L816.17,579.19 L825.02,583.58 L833.87,587.97 L842.72,592.36 L851.57,596.76 L860.41,601.16 L869.26,605.57 L878.10,609.98 L886.94,614.39 L895.78,618.81 L924.22,539.19 L914.58,537.01 L904.94,534.83 L895.30,532.64 L885.66,530.45 L876.03,528.25 L866.40,526.05 L856.77,523.84 L847.14,521.63 L837.51,519.42 L827.89,517.19 L818.26,514.97 L808.64,512.74 L799.02,510.50 L789.41,508.25 L779.79,506.00 L770.18,503.75 L760.57,501.49 L750.96,499.22 L741.35,496.94 L731.75,494.66 L722.15,492.37 L712.55,490.07 L702.96,487.76 L693.37,485.44 L683.78,483.12 L674.19,480.78 L664.61,478.44 L655.04,476.08 L645.46,473.71 L635.90,471.33 L626.33,468.94 L616.77,466.53 L607.22,464.10 L597.68,461.66 L588.14,459.19 L578.61,456.70 L569.09,454.18 L559.59,451.62 L550.10,449.01 L540.66,446.27 Z"/><circle fill="#5fb3a0" cx="910.00" cy="579.00" r="44.50"/><path fill="#a0a0a0" d="M539.48,449.22 L547.24,455.40 L554.93,461.70 L562.57,468.04 L570.20,474.41 L577.81,480.81 L585.40,487.24 L592.98,493.68 L600.55,500.13 L608.10,506.60 L615.65,513.09 L623.19,519.59 L630.73,526.09 L638.25,532.61 L645.77,539.14 L653.28,545.67 L660.79,552.22 L668.29,558.77 L675.78,565.33 L683.27,571.90 L690.76,578.47 L698.24,585.05 L705.72,591.64 L713.19,598.23 L720.66,604.83 L728.12,611.44 L735.58,618.05 L743.04,624.66 L750.49,631.28 L757.94,637.91 L765.39,644.54 L772.83,651.17 L780.27,657.81 L787.70,664.46 L795.14,671.10 L802.57,677.76 L810.00,684.41 L817.42,691.07 L824.84,697.74 L832.26,704.41 L839.68,711.08 L888.32,641.92 L879.54,637.20 L870.75,632.47 L861.97,627.74 L853.19,623.00 L844.42,618.26 L835.65,613.51 L826.88,608.77 L818.11,604.01 L809.35,599.26 L800.59,594.49 L791.83,589.73 L783.08,584.95 L774.33,580.18 L765.58,575.40 L756.84,570.61 L748.10,565.82 L739.36,561.02 L730.63,556.22 L721.91,551.41 L713.18,546.59 L704.47,541.77 L695.76,536.94 L687.05,532.10 L678.35,527.26 L669.65,522.40 L660.96,517.54 L652.27,512.67 L643.60,507.79 L634.93,502.90 L626.26,498.00 L617.61,493.09 L608.96,488.17 L600.33,483.23 L591.71,478.27 L583.09,473.30 L574.50,468.30 L565.92,463.28 L557.37,458.22 L548.85,453.12 L540.40,447.91 Z"/><circle fill="#a0a0a0" cx="864.00" cy="676.50" r="44.50"/><path fill="#ec86b0" d="M538.61,450.55 L543.92,458.12 L549.12,465.77 L554.28,473.45 L559.40,481.17 L564.50,488.91 L569.58,496.66 L574.64,504.43 L579.68,512.21 L584.70,520.00 L589.72,527.81 L594.72,535.62 L599.71,543.44 L604.69,551.27 L609.67,559.11 L614.63,566.96 L619.59,574.81 L624.53,582.67 L629.47,590.53 L634.40,598.40 L639.33,606.27 L644.25,614.15 L649.16,622.04 L654.07,629.93 L658.97,637.83 L663.87,645.73 L668.76,653.63 L673.64,661.54 L678.52,669.45 L683.39,677.37 L688.26,685.29 L693.13,693.21 L697.99,701.14 L702.85,709.07 L707.70,717.01 L712.55,724.94 L717.39,732.88 L722.23,740.83 L727.07,748.78 L731.90,756.73 L736.73,764.68 L805.27,709.32 L798.51,702.92 L791.76,696.53 L785.00,690.13 L778.26,683.72 L771.51,677.32 L764.77,670.91 L758.03,664.50 L751.30,658.08 L744.57,651.66 L737.85,645.24 L731.13,638.81 L724.42,632.38 L717.71,625.94 L711.01,619.50 L704.31,613.06 L697.62,606.61 L690.93,600.16 L684.25,593.70 L677.57,587.24 L670.90,580.77 L664.24,574.30 L657.58,567.82 L650.93,561.34 L644.29,554.85 L637.66,548.36 L631.03,541.85 L624.42,535.34 L617.81,528.82 L611.22,522.30 L604.63,515.76 L598.06,509.22 L591.49,502.67 L584.95,496.10 L578.42,489.52 L571.90,482.93 L565.41,476.32 L558.95,469.69 L552.52,463.03 L546.13,456.33 L539.85,449.55 Z"/><circle fill="#ec86b0" cx="771.00" cy="737.00" r="44.50"/></g>
<circle cx="530.0" cy="445.0" r="11.5" fill="#4a6db0"/>
<circle cx="690.9" cy="343.2" r="7" fill="#4a6db0"/>
<g fill="#000"><path d="M707.28,112.25 L705.82,115.33 L704.12,118.29 L702.20,121.10 L700.07,123.76 L697.74,126.25 L695.22,128.56 L692.54,130.66 L689.71,132.55 L686.73,134.22 L683.64,135.66 L680.45,136.85 L677.17,137.80 L673.84,138.49 L670.46,138.92 L667.05,139.10 L663.64,139.01 L660.25,138.66 L656.90,138.05 L653.60,137.18 L650.38,136.07 L647.25,134.71 L644.24,133.12 L641.36,131.30 L638.62,129.26 L636.06,127.02 L633.67,124.59 L631.47,121.98 L629.48,119.21 L627.71,116.30 L626.17,113.26 L624.86,110.11 L623.80,106.87 L622.99,103.56 L622.44,100.20 L622.15,96.80 L622.12,93.39 L622.35,89.99 L622.84,86.62 L623.59,83.29 L624.59,80.03 L625.54,77.61 L624.53,80.87 L623.79,84.19 L623.29,87.57 L623.06,90.97 L623.09,94.38 L623.39,97.77 L623.94,101.14 L624.74,104.45 L625.80,107.69 L627.11,110.84 L628.65,113.88 L630.42,116.79 L632.41,119.56 L634.61,122.17 L637.00,124.60 L639.57,126.84 L642.30,128.87 L645.18,130.69 L648.20,132.29 L651.32,133.65 L654.54,134.76 L657.84,135.63 L661.20,136.24 L664.59,136.59 L667.99,136.67 L671.40,136.50 L674.78,136.07 L678.12,135.38 L681.39,134.43 L684.59,133.23 L687.68,131.80 L690.65,130.13 L693.49,128.24 L696.17,126.13 L698.68,123.83 L701.01,121.34 L703.14,118.68 L705.06,115.86 L706.76,112.91 L708.23,109.83Z"/><ellipse cx="666.5" cy="79.3" rx="15.3" ry="17.7"/><ellipse cx="666.5" cy="114.7" rx="29.6" ry="14.0"/><path d="M804.02,149.61 L801.79,152.20 L799.37,154.61 L796.77,156.83 L794.01,158.84 L791.10,160.64 L788.07,162.20 L784.92,163.53 L781.68,164.61 L778.37,165.45 L775.00,166.02 L771.60,166.34 L768.18,166.39 L764.77,166.18 L761.39,165.71 L758.05,164.98 L754.78,164.00 L751.59,162.77 L748.51,161.30 L745.54,159.59 L742.72,157.67 L740.06,155.53 L737.56,153.19 L735.25,150.67 L733.15,147.99 L731.25,145.14 L729.58,142.16 L728.14,139.06 L726.95,135.86 L726.00,132.58 L725.31,129.23 L724.88,125.85 L724.70,122.43 L724.79,119.02 L725.15,115.62 L725.76,112.26 L726.62,108.95 L727.74,105.73 L729.11,102.59 L730.71,99.57 L732.53,96.69 L734.08,94.60 L732.25,97.48 L730.65,100.50 L729.29,103.64 L728.17,106.86 L727.30,110.17 L726.69,113.53 L726.34,116.93 L726.25,120.34 L726.42,123.76 L726.86,127.14 L727.55,130.49 L728.49,133.77 L729.69,136.97 L731.13,140.07 L732.80,143.05 L734.69,145.90 L736.80,148.58 L739.11,151.10 L741.60,153.44 L744.27,155.58 L747.09,157.50 L750.05,159.21 L753.14,160.68 L756.32,161.91 L759.59,162.89 L762.93,163.62 L766.32,164.09 L769.73,164.30 L773.14,164.25 L776.54,163.93 L779.91,163.36 L783.23,162.52 L786.47,161.44 L789.61,160.11 L792.65,158.55 L795.56,156.75 L798.32,154.74 L800.92,152.52 L803.34,150.11 L805.57,147.52Z"/><ellipse cx="769.2" cy="106.5" rx="15.3" ry="17.7"/><ellipse cx="769.2" cy="141.9" rx="29.6" ry="14.0"/><path d="M889.43,210.98 L886.61,212.94 L883.65,214.68 L880.57,216.18 L877.38,217.45 L874.10,218.47 L870.76,219.23 L867.36,219.73 L863.94,219.98 L860.51,219.96 L857.09,219.67 L853.70,219.13 L850.36,218.32 L847.10,217.26 L843.93,215.96 L840.86,214.41 L837.92,212.64 L835.13,210.64 L832.50,208.44 L830.05,206.04 L827.78,203.46 L825.73,200.71 L823.89,197.82 L822.27,194.79 L820.90,191.64 L819.76,188.40 L818.88,185.09 L818.26,181.71 L817.90,178.30 L817.80,174.87 L817.97,171.44 L818.39,168.04 L819.08,164.67 L820.02,161.37 L821.22,158.16 L822.66,155.04 L824.33,152.04 L826.22,149.18 L828.33,146.48 L830.65,143.94 L833.15,141.59 L835.17,139.95 L832.67,142.30 L830.35,144.84 L828.24,147.54 L826.35,150.40 L824.67,153.40 L823.24,156.52 L822.04,159.74 L821.10,163.03 L820.41,166.40 L819.99,169.80 L819.82,173.23 L819.92,176.66 L820.28,180.07 L820.90,183.45 L821.78,186.77 L822.91,190.01 L824.29,193.15 L825.90,196.18 L827.75,199.07 L829.80,201.82 L832.07,204.40 L834.52,206.80 L837.15,209.00 L839.94,211.00 L842.88,212.78 L845.94,214.32 L849.12,215.63 L852.38,216.68 L855.72,217.49 L859.11,218.03 L862.53,218.32 L865.96,218.34 L869.38,218.10 L872.78,217.59 L876.12,216.83 L879.40,215.81 L882.59,214.55 L885.67,213.04 L888.63,211.30 L891.45,209.34Z"/><ellipse cx="862.5" cy="159.9" rx="15.3" ry="17.7"/><ellipse cx="862.5" cy="195.3" rx="29.6" ry="14.0"/><path d="M927.55,310.20 L924.34,311.40 L921.04,312.36 L917.69,313.07 L914.28,313.51 L910.86,313.70 L907.42,313.61 L904.01,313.27 L900.63,312.66 L897.31,311.80 L894.06,310.69 L890.91,309.33 L887.88,307.73 L884.97,305.90 L882.22,303.86 L879.62,301.61 L877.21,299.16 L875.00,296.54 L872.99,293.76 L871.20,290.83 L869.64,287.78 L868.31,284.61 L867.24,281.35 L866.42,278.02 L865.86,274.63 L865.55,271.21 L865.52,267.78 L865.74,264.36 L866.23,260.96 L866.98,257.61 L867.98,254.33 L869.23,251.13 L870.72,248.04 L872.44,245.07 L874.39,242.25 L876.55,239.58 L878.90,237.08 L881.44,234.78 L884.15,232.67 L887.02,230.78 L890.02,229.12 L892.38,228.02 L889.38,229.69 L886.51,231.58 L883.80,233.69 L881.26,235.99 L878.91,238.49 L876.75,241.16 L874.80,243.98 L873.08,246.95 L871.59,250.04 L870.34,253.24 L869.33,256.52 L868.59,259.87 L868.10,263.27 L867.88,266.69 L867.91,270.12 L868.22,273.54 L868.78,276.93 L869.60,280.26 L870.67,283.52 L871.99,286.69 L873.56,289.74 L875.35,292.67 L877.35,295.45 L879.57,298.07 L881.98,300.51 L884.57,302.76 L887.33,304.81 L890.24,306.63 L893.27,308.23 L896.42,309.59 L899.67,310.71 L902.99,311.57 L906.37,312.18 L909.78,312.52 L913.21,312.60 L916.64,312.42 L920.04,311.98 L923.40,311.27 L926.70,310.31 L929.91,309.10Z"/><ellipse cx="910.2" cy="253.6" rx="15.3" ry="17.7"/><ellipse cx="910.2" cy="289.0" rx="29.6" ry="14.0"/><path d="M938.85,415.22 L935.44,415.59 L932.01,415.70 L928.58,415.54 L925.17,415.13 L921.81,414.45 L918.50,413.52 L915.28,412.33 L912.16,410.91 L909.16,409.24 L906.29,407.36 L903.58,405.25 L901.04,402.95 L898.68,400.46 L896.52,397.79 L894.57,394.97 L892.84,392.00 L891.35,388.91 L890.09,385.72 L889.09,382.44 L888.34,379.09 L887.85,375.69 L887.62,372.27 L887.65,368.83 L887.95,365.42 L888.51,362.03 L889.33,358.70 L890.40,355.44 L891.71,352.27 L893.27,349.21 L895.06,346.28 L897.07,343.49 L899.28,340.87 L901.69,338.43 L904.28,336.17 L907.03,334.13 L909.93,332.30 L912.97,330.70 L916.12,329.33 L919.36,328.21 L922.68,327.35 L925.24,326.88 L921.92,327.74 L918.68,328.86 L915.53,330.23 L912.49,331.83 L909.59,333.66 L906.83,335.70 L904.24,337.96 L901.84,340.40 L899.62,343.02 L897.62,345.81 L895.83,348.74 L894.27,351.80 L892.95,354.97 L891.88,358.23 L891.07,361.56 L890.51,364.94 L890.21,368.36 L890.18,371.80 L890.40,375.22 L890.89,378.62 L891.64,381.97 L892.65,385.25 L893.90,388.44 L895.40,391.53 L897.13,394.50 L899.07,397.32 L901.24,399.99 L903.59,402.48 L906.14,404.78 L908.85,406.89 L911.72,408.77 L914.72,410.44 L917.84,411.86 L921.06,413.05 L924.36,413.98 L927.73,414.66 L931.13,415.07 L934.56,415.23 L937.99,415.12 L941.40,414.75Z"/><ellipse cx="932.3" cy="355.6" rx="15.3" ry="17.7"/><ellipse cx="932.3" cy="391.0" rx="29.6" ry="14.0"/><path d="M927.46,520.91 L924.07,520.40 L920.72,519.62 L917.45,518.59 L914.27,517.31 L911.19,515.79 L908.24,514.04 L905.43,512.07 L902.78,509.89 L900.30,507.51 L898.02,504.95 L895.94,502.22 L894.07,499.34 L892.44,496.32 L891.03,493.19 L889.87,489.96 L888.97,486.65 L888.32,483.28 L887.93,479.87 L887.80,476.44 L887.94,473.01 L888.34,469.60 L888.99,466.24 L889.91,462.93 L891.08,459.70 L892.49,456.57 L894.13,453.56 L896.01,450.69 L898.10,447.96 L900.39,445.41 L902.87,443.03 L905.52,440.86 L908.33,438.90 L911.29,437.15 L914.37,435.64 L917.56,434.37 L920.84,433.35 L924.18,432.58 L927.58,432.07 L931.00,431.83 L934.43,431.84 L937.02,432.04 L933.59,432.03 L930.17,432.27 L926.77,432.78 L923.43,433.55 L920.15,434.57 L916.96,435.84 L913.88,437.35 L910.93,439.10 L908.11,441.06 L905.46,443.24 L902.98,445.61 L900.69,448.17 L898.60,450.89 L896.73,453.76 L895.08,456.78 L893.67,459.90 L892.50,463.13 L891.59,466.44 L890.93,469.81 L890.53,473.22 L890.39,476.64 L890.52,480.07 L890.91,483.48 L891.56,486.85 L892.47,490.16 L893.63,493.39 L895.03,496.53 L896.67,499.54 L898.53,502.42 L900.61,505.15 L902.90,507.71 L905.37,510.09 L908.02,512.27 L910.83,514.24 L913.78,516.00 L916.86,517.51 L920.04,518.79 L923.32,519.82 L926.66,520.60 L930.05,521.12Z"/><ellipse cx="932.5" cy="461.1" rx="15.3" ry="17.7"/><ellipse cx="932.5" cy="496.5" rx="29.6" ry="14.0"/><path d="M893.67,620.61 L890.53,619.24 L887.50,617.62 L884.60,615.78 L881.85,613.73 L879.27,611.46 L876.87,609.01 L874.67,606.38 L872.67,603.59 L870.90,600.65 L869.35,597.59 L868.04,594.42 L866.98,591.15 L866.18,587.82 L865.63,584.43 L865.35,581.01 L865.32,577.58 L865.56,574.15 L866.07,570.76 L866.83,567.41 L867.84,564.13 L869.11,560.94 L870.61,557.86 L872.35,554.90 L874.31,552.08 L876.48,549.43 L878.85,546.94 L881.40,544.65 L884.12,542.55 L886.99,540.67 L890.00,539.02 L893.13,537.61 L896.35,536.43 L899.66,535.51 L903.03,534.85 L906.43,534.44 L909.86,534.30 L913.29,534.42 L916.70,534.81 L920.07,535.45 L923.39,536.35 L925.84,537.22 L922.53,536.31 L919.15,535.67 L915.74,535.29 L912.31,535.16 L908.89,535.31 L905.48,535.71 L902.11,536.38 L898.81,537.30 L895.58,538.47 L892.45,539.89 L889.45,541.54 L886.57,543.42 L883.85,545.51 L881.30,547.81 L878.93,550.29 L876.76,552.95 L874.80,555.77 L873.07,558.72 L871.56,561.81 L870.30,565.00 L869.28,568.28 L868.52,571.62 L868.02,575.02 L867.77,578.44 L867.80,581.87 L868.08,585.29 L868.63,588.68 L869.44,592.02 L870.49,595.28 L871.80,598.46 L873.35,601.52 L875.12,604.46 L877.12,607.25 L879.33,609.88 L881.73,612.33 L884.31,614.59 L887.05,616.65 L889.95,618.49 L892.98,620.10 L896.12,621.48Z"/><ellipse cx="910.0" cy="563.6" rx="15.3" ry="17.7"/><ellipse cx="910.0" cy="599.0" rx="29.6" ry="14.0"/><path d="M837.27,712.33 L834.60,710.17 L832.10,707.82 L829.79,705.28 L827.69,702.57 L825.80,699.70 L824.13,696.71 L822.69,693.59 L821.51,690.37 L820.57,687.07 L819.88,683.70 L819.46,680.30 L819.30,676.87 L819.40,673.44 L819.77,670.03 L820.40,666.65 L821.28,663.34 L822.42,660.10 L823.80,656.96 L825.42,653.93 L827.26,651.04 L829.32,648.29 L831.59,645.72 L834.05,643.32 L836.68,641.12 L839.48,639.13 L842.42,637.36 L845.48,635.82 L848.66,634.52 L851.92,633.46 L855.26,632.66 L858.65,632.12 L862.07,631.84 L865.50,631.83 L868.93,632.07 L872.32,632.58 L875.66,633.35 L878.94,634.37 L882.13,635.64 L885.21,637.15 L888.17,638.90 L890.30,640.38 L887.35,638.63 L884.27,637.12 L881.08,635.85 L877.80,634.83 L874.46,634.06 L871.06,633.55 L867.64,633.31 L864.21,633.32 L860.79,633.60 L857.40,634.14 L854.06,634.94 L850.79,636.00 L847.62,637.30 L844.55,638.84 L841.61,640.61 L838.82,642.60 L836.18,644.80 L833.73,647.20 L831.46,649.77 L829.40,652.52 L827.55,655.41 L825.94,658.44 L824.55,661.58 L823.42,664.82 L822.54,668.13 L821.91,671.51 L821.54,674.92 L821.44,678.35 L821.60,681.78 L822.02,685.18 L822.70,688.55 L823.64,691.85 L824.83,695.07 L826.26,698.19 L827.93,701.19 L829.82,704.05 L831.93,706.76 L834.24,709.30 L836.74,711.65 L839.41,713.81Z"/><ellipse cx="864.0" cy="661.1" rx="15.3" ry="17.7"/><ellipse cx="864.0" cy="696.5" rx="29.6" ry="14.0"/><path d="M735.55,764.23 L733.57,761.43 L731.80,758.49 L730.27,755.42 L728.98,752.24 L727.93,748.97 L727.14,745.63 L726.61,742.24 L726.34,738.82 L726.33,735.39 L726.58,731.97 L727.10,728.57 L727.88,725.23 L728.91,721.96 L730.19,718.77 L731.70,715.69 L733.45,712.74 L735.43,709.93 L737.61,707.28 L739.99,704.81 L742.55,702.53 L745.28,700.44 L748.16,698.58 L751.17,696.94 L754.30,695.54 L757.53,694.38 L760.84,693.47 L764.21,692.82 L767.62,692.43 L771.05,692.30 L774.48,692.44 L777.89,692.83 L781.26,693.49 L784.56,694.41 L787.79,695.57 L790.92,696.98 L793.93,698.63 L796.81,700.50 L799.53,702.59 L802.09,704.88 L804.46,707.36 L806.12,709.37 L803.74,706.89 L801.19,704.60 L798.46,702.51 L795.59,700.64 L792.58,698.99 L789.45,697.58 L786.22,696.41 L782.91,695.50 L779.54,694.84 L776.14,694.44 L772.71,694.31 L769.28,694.43 L765.87,694.82 L762.50,695.47 L759.19,696.38 L755.96,697.54 L752.83,698.94 L749.81,700.58 L746.93,702.45 L744.20,704.53 L741.64,706.82 L739.26,709.29 L737.08,711.94 L735.11,714.75 L733.36,717.70 L731.84,720.78 L730.56,723.96 L729.53,727.24 L728.76,730.58 L728.24,733.97 L727.98,737.39 L727.99,740.83 L728.26,744.25 L728.80,747.64 L729.59,750.98 L730.63,754.25 L731.93,757.42 L733.46,760.49 L735.22,763.44 L737.21,766.24Z"/><ellipse cx="771.0" cy="721.6" rx="15.3" ry="17.7"/><ellipse cx="771.0" cy="757.0" rx="29.6" ry="14.0"/></g>
</svg>
</body></html>
